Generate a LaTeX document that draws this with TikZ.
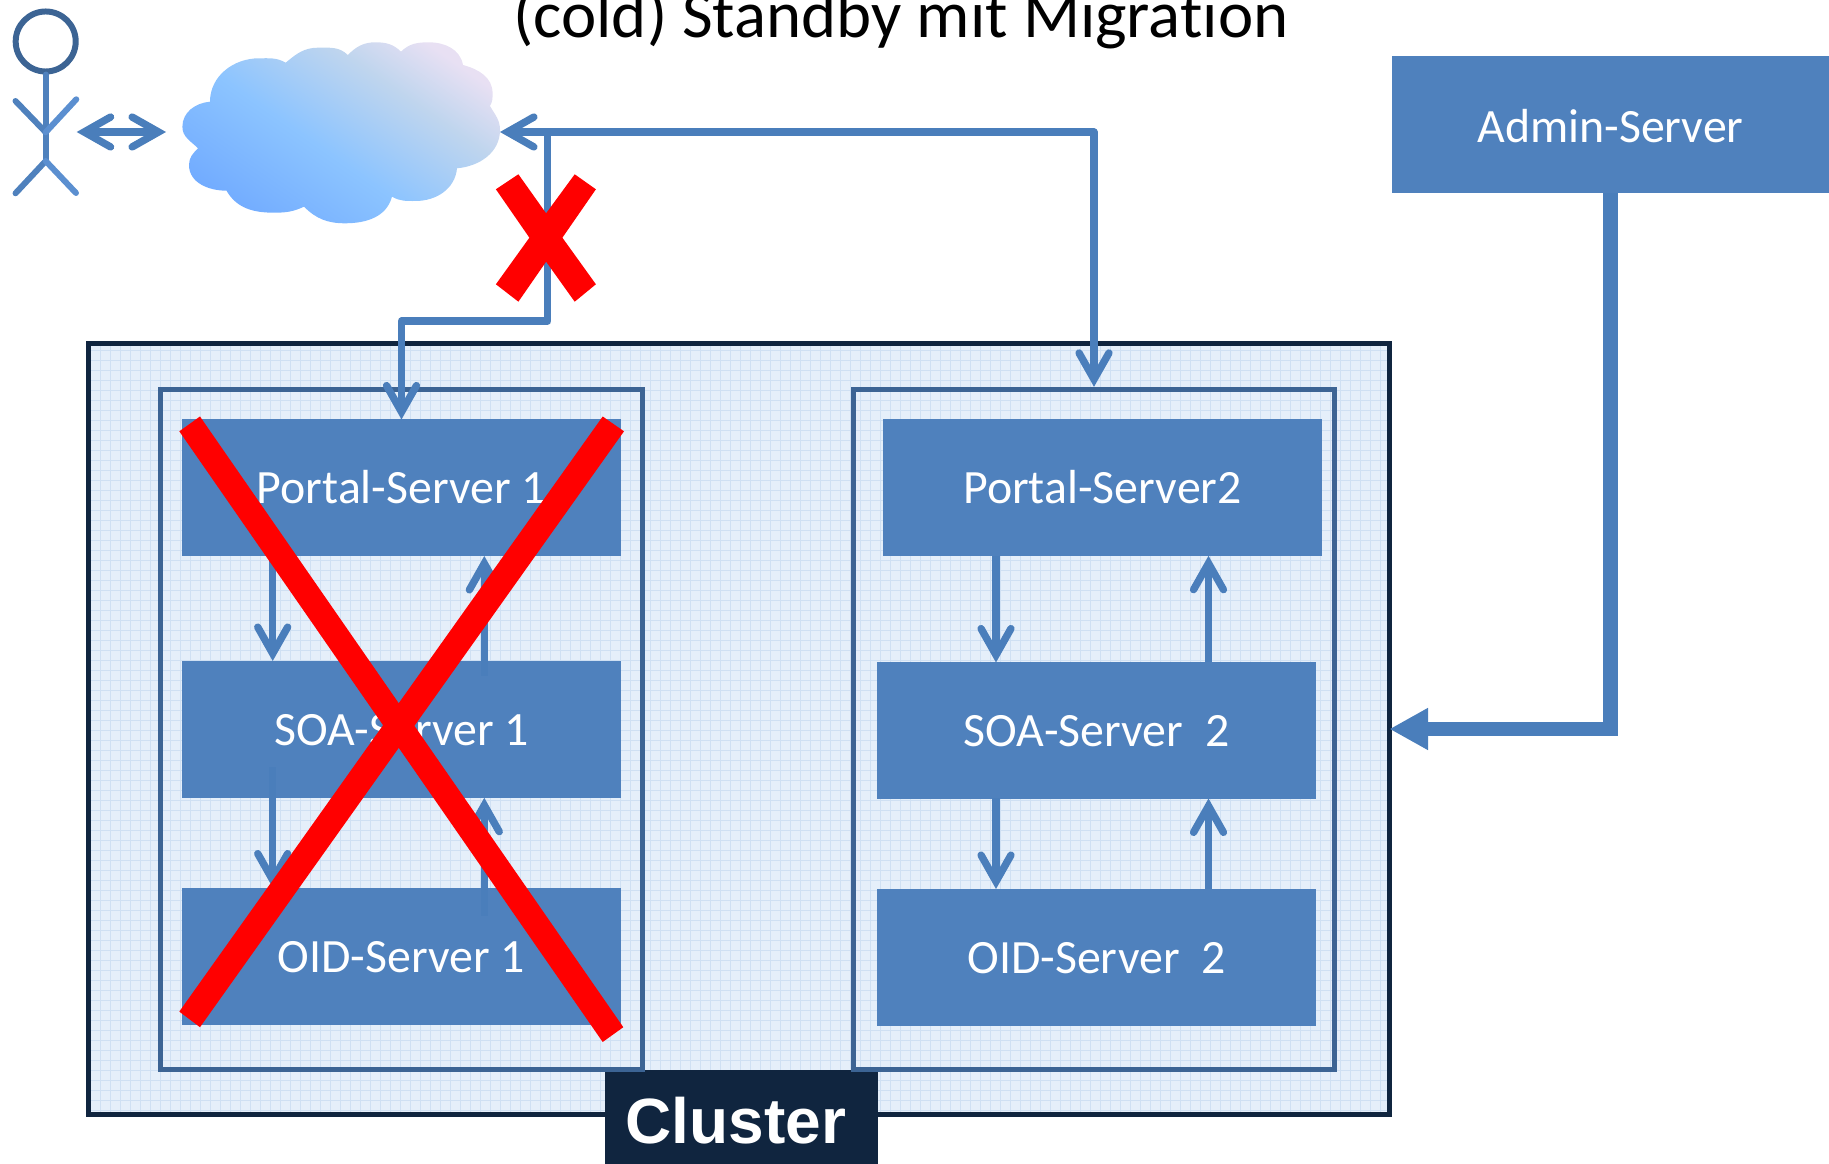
\documentclass[tikz,border=0pt]{standalone}
\usepackage{fontspec}
\setmainfont{Carlito}[Ligatures=NoCommon]
\newfontfamily\clusterfont{Liberation Sans}
\usetikzlibrary{arrows.meta, positioning, calc}
\definecolor{serverblue}{HTML}{4F81BD}
\definecolor{linkblue}{HTML}{4A7EBB}
\definecolor{framblue}{HTML}{3C6494}
\definecolor{navy}{HTML}{10253F}
\definecolor{panel}{HTML}{E5EFFA}
\definecolor{panelgrid}{HTML}{CFE0F3}
\definecolor{cloudlow}{HTML}{6FA9FF}
\definecolor{cloudmid}{HTML}{8CC4FF}
\definecolor{cloudpale}{HTML}{BFD5EE}
\definecolor{cloudhigh}{HTML}{E8E0F3}
\definecolor{sticklight}{HTML}{5B8FD0}
\pgfdeclareverticalshading{cloudshade}{100bp}{color(0bp)=(cloudlow); color(22bp)=(cloudlow); color(45bp)=(cloudmid); color(64bp)=(cloudpale); color(76bp)=(cloudhigh); color(100bp)=(cloudhigh)}
\begin{document}
\begin{tikzpicture}[
         x=0.01cm, y=-0.01cm,
         server/.style={rectangle, fill=serverblue, text=white, inner sep=0pt, outer sep=0pt, minimum width=4.38cm, minimum height=1.36cm, text height=9.4pt, font=\fontsize{13.6}{15}\selectfont},
         clusterbox/.style={rectangle, draw=navy, line width=1.4pt, inner sep=0pt, outer sep=0pt, minimum width=13cm, minimum height=7.71cm},
         hostbox/.style={rectangle, draw=framblue, line width=1.4pt, inner sep=0pt, minimum width=4.81cm, minimum height=6.8cm},
         barb/.tip={Straight Barb[length=7.5pt, width=8.5pt, line width=2.1pt, line cap=round]},
         link/.style={draw=linkblue, line width=2.05pt, line join=round, -barb},
         backlink/.style={link, barb-barb},
         stick/.style={draw=serverblue, line width=1.7pt, line cap=round},
         cross/.style={fill=red, draw=none}
      ]
         \useasboundingbox (0,0) rectangle (1829,1164);

         % Title
         \node[font=\fontsize{19}{22}\selectfont, anchor=base] (title) at (901,38) {(cold) Standby mit Migration};

         % Cluster frame with its texture
         \node[clusterbox, fill=panel, draw=none] (panelarea) at (739,729) {};
         \draw[panelgrid, line width=0.3pt] (89,344) grid[xstep=0.1cm, ystep=0.1cm] (1389,1115);
         \node[clusterbox] (cluster) at (739,729) {};
         \node[fill=navy, text=white, font=\clusterfont\bfseries\fontsize{18.2}{20}\selectfont, inner sep=0pt, minimum width=2.73cm, minimum height=0.94cm, text height=15pt] (label) at (741.5,1117) {Cluster\kern0.115cm};

         % Hosts
         \node[hostbox] (host1) at (401.5,729.5) {};
         \node[hostbox] (host2) at (1094,729.5) {};

         % Servers
         \node[server] (portal1) at (401.5,487.5) {Portal-Server 1};
         \node[server] (soa1) at (401.5,729.5) {SOA-Server 1};
         \node[server] (oid1) at (401.5,956.5) {OID-Server 1};
         \node[server] (portal2) at (1102.5,487.5) {Portal-Server2};
         \node[server] (soa2) at (1096.5,730.5) {SOA-Server~~2};
         \node[server] (oid2) at (1096.5,957.5) {OID-Server~~2};
         \node[server, minimum width=4.37cm, minimum height=1.37cm, text height=10.6pt] (admin) at (1610.5,124.5) {Admin-Server};

         % Cloud
         \path[shade, shading=cloudshade, shading angle=-35]
            (210,101.7) to[out=185,in=90] (182.4,126.7) to[out=270,in=135] (198,148.3)
            to[out=225,in=90] (189,165) to[out=270,in=180] (226.5,190.7)
            to[out=-60,in=180] (274,212.7) to[out=0,in=205] (304,206.7)
            to[out=-45,in=180] (345,223.3) to[out=0,in=255] (392,196.7)
            to[out=-30,in=180] (415.5,201) to[out=0,in=265] (457,168.3)
            to[out=5,in=270] (500,130) to[out=90,in=-60] (490,106)
            to[out=60,in=270] (492.6,93.3) to[out=90,in=-15] (463,65)
            to[out=100,in=0] (428.6,42.3) to[out=180,in=45] (401,51.7)
            to[out=135,in=0] (375.5,42.3) to[out=180,in=45] (347.8,55)
            to[out=135,in=0] (318,47.7) to[out=180,in=40] (285.7,62.7)
            to[out=150,in=0] (259,58.3) to[out=180,in=90] cycle;
         \coordinate (cloudeast) at (500,132);
         \coordinate (junction) at (547.8,132);

         % Person
         \node[circle, draw=framblue, line width=1.7pt, minimum size=0.6cm, inner sep=0pt] (head) at (45.7,41.5) {};
         \coordinate (neck) at (45.7,132.3);
         \coordinate (hip) at (45.7,161);
         \draw[stick] (head.south) -- (hip);
         \draw[stick] (15.5,101) -- (neck);
         \draw[stick] (15.5,193.3) -- (hip);
         \draw[stick, sticklight] (neck) -- (76.3,99.3);
         \draw[stick, sticklight] (hip) -- (76,193);
         \coordinate (personout) at (76.7,132);
         \coordinate (cloudwest) at (166,132);

         % Arrows
         \draw[backlink] (personout) -- (cloudwest);
         \draw[backlink] (cloudeast) -| (host2.north);
         \draw[link] (junction) |- (401.5,321) -- (portal1.north);
         \draw[link] (272.7,555.8) -- (272.7,661);
         \draw[link] (484.3,676) -- (484.3,556);
         \draw[link] (272.7,767.4) -- (272.7,887.5);
         \draw[link] (484.3,915.6) -- (484.3,797.8);
         \draw[link] (996,555.8) -- (996,662.5);
         \draw[link] (1208.5,662.5) -- (1208.5,555.8);
         \draw[link] (996,798.5) -- (996,889);
         \draw[link] (1208.5,889) -- (1208.5,798.5);
         \draw[draw=linkblue, line width=4pt, -{Triangle[length=11pt, width=11.2pt]}] (admin.south) |- (cluster.east);

         % Red crosses
         \fill[cross] (518.4,174.3) -- (546.1,213.3) -- (574.7,174.3) -- (595.9,189.3) -- (562.4,237.7) -- (595.9,284.3) -- (574.7,301.7) -- (546.1,261.7) -- (518.4,301.7) -- (495.9,284.3) -- (529.4,237.7) -- (495.9,189.3) -- cycle;
         \fill[cross] (179.3,431.3) -- (200,416.5) -- (623.3,1027.2) -- (602.7,1042) -- cycle;
         \fill[cross] (602.7,416.5) -- (624,431.3) -- (200,1027.2) -- (179.3,1011.6) -- cycle;
      \end{tikzpicture}
\end{document}
